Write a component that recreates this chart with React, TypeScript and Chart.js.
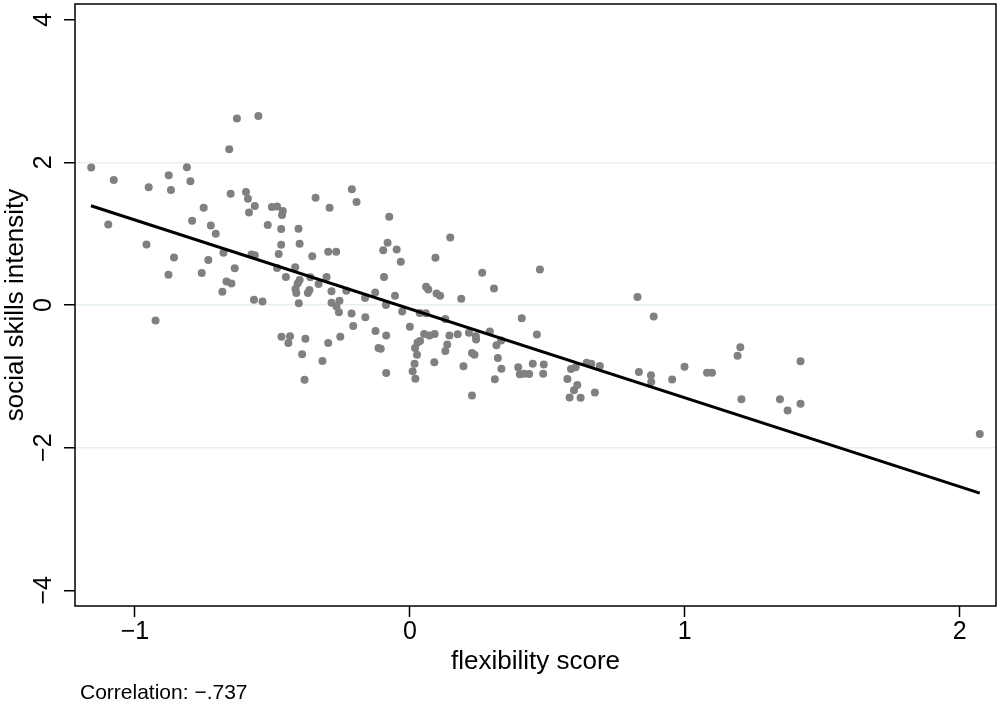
import React, { useEffect, useRef } from "react";
import { Chart, registerables } from "chart.js";

Chart.register(...registerables);

// Observations: flexibility score (x) and social skills intensity (y)
const flexibilityScore = [
  -0.629, -0.551, -0.657, -1.159, -1.077, -0.95, -0.877, -0.869, -0.811, -0.798,
  -0.652, -0.596, -0.589, -0.75, -0.792, -0.724, -0.706, -1.097, -0.958, -0.858,
  -0.678, -0.733, -0.637, -0.878, -0.757, -0.667, -0.649, -0.682, -0.925, -0.585,
  -0.564, -0.502, -0.483, -0.462, -0.465, -0.517, -0.468, -0.405, -0.468, -0.401,
  -0.343, -0.292, -0.211, -0.194, -0.075, -0.576, -0.564, -0.477, -0.355, -0.297,
  -0.268, -0.081, -0.097, -0.048, -0.033, -0.483, -0.417, -0.451, -0.401, -0.408,
  -0.416, -0.413, -0.365, -0.371, -0.362, -0.332, -0.303, -0.285, -0.231, -0.094,
  -0.126, -0.163, -0.054, -0.567, -0.536, -0.404, -0.285, -0.256, -0.267, -0.258,
  -0.087, -0.028, -0.212, -0.162, -0.206, -0.125, -0.086, 0.0, -0.467, -0.436,
  -0.442, -0.38, -0.297, -0.253, -0.114, -0.106, -0.392, -0.318, -0.086, -0.383,
  0.147, 0.093, 0.263, 0.473, 0.059, 0.067, 0.097, 0.11, 0.187, 0.306,
  0.036, 0.058, 0.129, 0.407, 0.052, 0.071, 0.09, 0.037, 0.028, 0.144,
  0.174, 0.215, 0.24, 0.241, 0.291, 0.332, 0.315, 0.462, 0.019, 0.026,
  0.136, 0.129, 0.226, 0.235, 0.089, 0.017, 0.01, 0.02, 0.195, 0.32,
  0.333, 0.394, 0.4, 0.416, 0.434, 0.447, 0.487, 0.485, 0.309, 0.226,
  0.573, 0.581, 0.586,
  0.603, 0.609, 0.597, 0.621, 0.673, 0.643, 0.66, 0.691, 0.828, 0.887,
  0.833, 0.877, 0.878, 0.954, 0.999, 1.081, 1.099, 1.202, 1.192, 1.421,
  1.206, 1.346, 1.374, 1.421, 2.073,
];

const socialSkills = [
  2.615, 2.651, 2.184, 1.926, 1.754, 1.652, 1.82, 1.614, 1.931, 1.736,
  1.559, 1.586, 1.489, 1.363, 1.182, 1.116, 1.0, 1.13, 0.847, 0.666,
  0.731, 0.631, 0.516, 0.424, 0.449, 0.331, 0.3, 0.187, -0.216, 1.298,
  1.387, 1.373, 1.381, 1.317, 1.261, 1.122, 1.066, 1.07, 0.843, 0.857,
  1.503, 1.363, 1.624, 1.443, 1.238, 0.707, 0.698, 0.714, 0.682, 0.745,
  0.745, 0.872, 0.766, 0.777, 0.606, 0.519, 0.529, 0.393, 0.349, 0.303,
  0.223, 0.167, 0.212, 0.167, 0.389, 0.293, 0.393, 0.194, 0.201, 0.393,
  0.177, 0.098, 0.128, 0.073, 0.05, 0.024, 0.033, 0.059, -0.021, -0.102,
  -0.001, -0.092, -0.12, -0.172, -0.293, -0.363, -0.427, -0.304, -0.444, -0.437,
  -0.532, -0.472, -0.532, -0.444, -0.604, -0.614, -0.692, -0.786, -0.953, -1.048,
  0.945, 0.661, 0.452, 0.498, 0.257, 0.219, 0.16, 0.131, 0.089, 0.233,
  -0.112, -0.116, -0.195, -0.186, -0.405, -0.427, -0.405, -0.506, -0.527, -0.427,
  -0.409, -0.388, -0.437, -0.483, -0.371, -0.497, -0.566, -0.413, -0.604, -0.698,
  -0.553, -0.646, -0.674, -0.698, -0.804, -0.823, -0.929, -1.033, -0.86, -0.744,
  -0.893, -0.873, -0.971, -0.963, -0.967, -0.823, -0.834, -0.964, -1.041, -1.27,
  -1.037, -1.298, -0.897,
  -0.873, -1.12, -1.194, -1.302, -1.228, -0.809, -0.823, -0.855, 0.112, -0.162,
  -0.939, -0.985, -1.079, -1.046, -0.865, -0.949, -0.949, -0.594, -0.712, -0.79,
  -1.32, -1.32, -1.479, -1.386, -1.808,
];

// Fitted regression line, from the smallest to the largest flexibility score
const fitX = [-1.16, 2.073];
const fitY = [1.391, -2.637];

const xTicks = [-1, 0, 1, 2];
const yTicks = [-4, -2, 0, 2, 4];
const yGridValues = [-2, 0, 2];

const xTitle = "flexibility score";
const yTitle = "social skills intensity";
const noteText = "Correlation: \u2212.737";

const FONT = '"Liberation Sans", Arial, Helvetica, sans-serif';

const fmtTick = (v: number | string) => {
  const n = Number(v);
  return n < 0 ? "\u2212" + Math.abs(n) : String(n);
};

// Outline around the whole plot region
const framePlugin = {
  id: "plotFrame",
  afterDraw(chart: any) {
    const { ctx, chartArea: a } = chart;
    ctx.save();
    ctx.strokeStyle = "#000";
    ctx.lineWidth = 1.5;
    ctx.strokeRect(a.left, a.top, a.right - a.left, a.bottom - a.top);
    ctx.restore();
  },
};

// Vertical-axis tick labels, turned to read upwards beside each tick
const yLabelPlugin = {
  id: "yTickLabels",
  afterDraw(chart: any) {
    const { ctx } = chart;
    const scale = chart.scales.y;
    ctx.save();
    ctx.fillStyle = "#000";
    ctx.font = `25px ${FONT}`;
    ctx.textAlign = "center";
    ctx.textBaseline = "alphabetic";
    for (const v of yTicks) {
      const py = scale.getPixelForValue(v);
      ctx.save();
      ctx.translate(scale.right - 24, py);
      ctx.rotate(-Math.PI / 2);
      ctx.fillText(fmtTick(v), 0, 0);
      ctx.restore();
    }
    ctx.restore();
  },
};

export default function App() {
  const canvasRef = useRef<HTMLCanvasElement | null>(null);

  useEffect(() => {
    const canvas = canvasRef.current;
    if (!canvas) return;

    const points = flexibilityScore.map((x, i) => ({ x, y: socialSkills[i] }));
    const fitLine = fitX.map((x, i) => ({ x, y: fitY[i] }));

    const chart = new Chart(canvas, {
      type: "scatter",
      data: {
        datasets: [
          {
            data: fitLine,
            showLine: true,
            borderColor: "#000",
            borderWidth: 3,
            pointRadius: 0,
            fill: false,
          },
          {
            data: points,
            backgroundColor: "#808080",
            borderWidth: 0,
            pointRadius: 4,
          },
        ],
      },
      options: {
        responsive: false,
        animation: false,
        devicePixelRatio: 1,
        layout: { padding: { top: 1, right: 2, left: 0, bottom: 0 } },
        plugins: { legend: { display: false }, tooltip: { enabled: false } },
        scales: {
          x: {
            type: "linear",
            min: -1.218,
            max: 2.132,
            afterBuildTicks: (s: any) => {
              s.ticks = xTicks.map((v) => ({ value: v }));
            },
            afterFit: (s: any) => {
              s.height = 102;
              s.paddingLeft = 0;
              s.paddingRight = 0;
              s.paddingTop = 0;
              s.paddingBottom = 0;
            },
            border: { display: false },
            grid: {
              drawOnChartArea: false,
              drawTicks: true,
              tickLength: 11,
              tickColor: "#000",
              tickWidth: 1.5,
            },
            ticks: {
              color: "#000",
              font: { family: FONT, size: 25 },
              padding: 0,
              autoSkip: false,
              maxRotation: 0,
              callback: fmtTick,
            },
            title: {
              display: true,
              text: xTitle,
              color: "#000",
              font: { family: FONT, size: 26 },
              padding: { top: 0, bottom: 31 },
            },
          },
          y: {
            type: "linear",
            min: -4.22,
            max: 4.22,
            afterBuildTicks: (s: any) => {
              s.ticks = yTicks.map((v) => ({ value: v }));
            },
            afterFit: (s: any) => {
              s.width = 75;
              s.paddingLeft = 0;
              s.paddingRight = 0;
              s.paddingTop = 0;
              s.paddingBottom = 0;
            },
            border: { display: false },
            grid: {
              drawOnChartArea: true,
              drawTicks: true,
              tickLength: 11,
              tickColor: "#000",
              tickWidth: 1.5,
              lineWidth: 1.5,
              color: (c: any) =>
                yGridValues.includes(c.tick?.value) ? "#e6eff1" : "rgba(0,0,0,0)",
            },
            ticks: {
              display: false,
              autoSkip: false,
            },
            title: {
              display: true,
              text: yTitle,
              color: "#000",
              font: { family: FONT, size: 26 },
              padding: { top: 0, bottom: 0 },
            },
          },
        },
      },
      plugins: [framePlugin, yLabelPlugin],
    } as any);

    return () => chart.destroy();
  }, []);

  return (
    <div
      style={{
        position: "fixed",
        left: 0,
        top: 0,
        width: 1000,
        height: 708,
        background: "#fff",
      }}
    >
      <canvas ref={canvasRef} width={1000} height={708} style={{ display: "block" }} />
      <div
        style={{
          position: "absolute",
          left: 80,
          top: 680,
          fontFamily: FONT,
          fontSize: 21,
          lineHeight: "24px",
          color: "#000",
          whiteSpace: "nowrap",
        }}
      >
        {noteText}
      </div>
    </div>
  );
}
